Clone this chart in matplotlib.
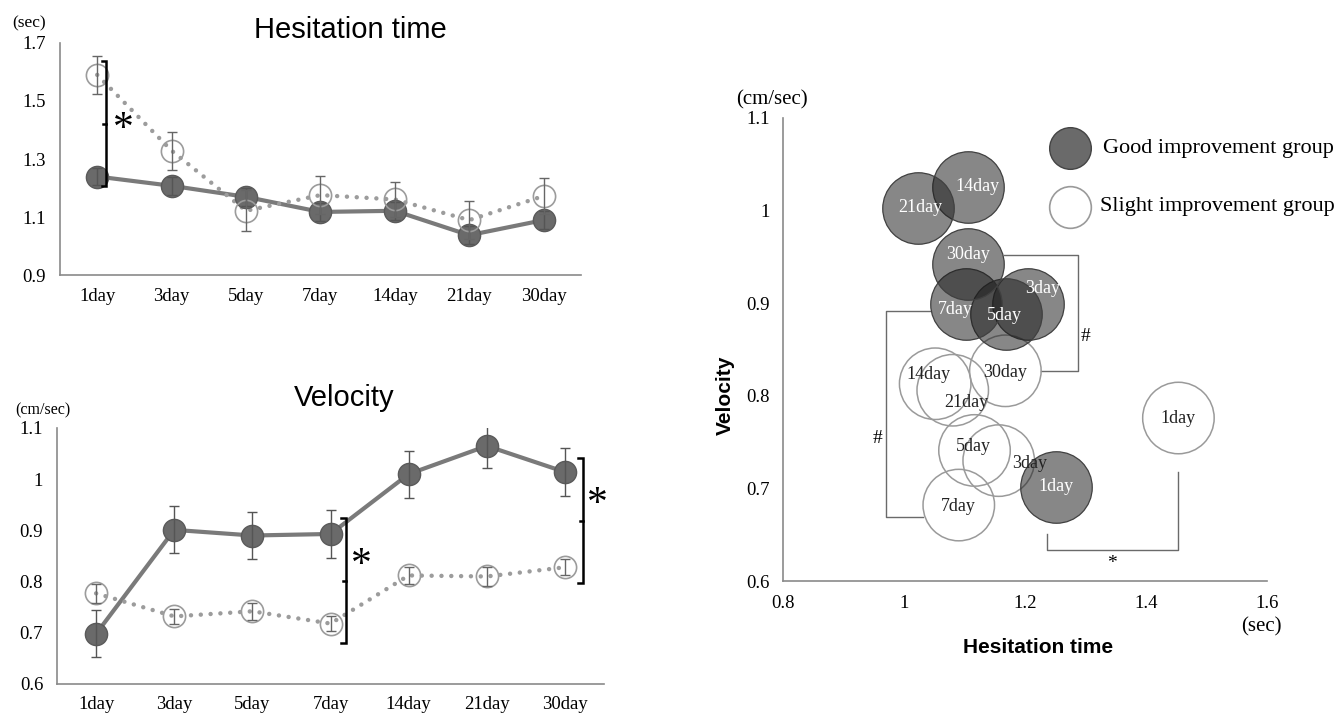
# Hesitation time / velocity by day, two improvement groups
import matplotlib
matplotlib.use("Agg")
import matplotlib.pyplot as plt

days = ["1day", "3day", "5day", "7day", "14day", "21day", "30day"]

# hesitation time (sec)
hes_good = [1.24, 1.208, 1.17, 1.118, 1.122, 1.038, 1.09]
hes_good_err = [0.03, 0.03, 0.03, 0.03, 0.03, 0.03, 0.03]
hes_slight = [1.59, 1.329, 1.122, 1.176, 1.161, 1.09, 1.173]
hes_slight_err = [0.066, 0.065, 0.07, 0.065, 0.06, 0.065, 0.062]

# velocity (cm/sec)
vel_good = [0.698, 0.901, 0.890, 0.893, 1.010, 1.065, 1.014]
vel_good_err = [0.046, 0.046, 0.046, 0.046, 0.046, 0.043, 0.046]
vel_slight = [0.777, 0.732, 0.742, 0.718, 0.812, 0.810, 0.828]
vel_slight_err = [0.018, 0.015, 0.017, 0.015, 0.016, 0.018, 0.016]

# bubble chart (hesitation time vs velocity)
bub_days = ["1day", "3day", "5day", "7day", "14day", "21day", "30day"]
bub_good_x = [1.251, 1.205, 1.168, 1.102, 1.105, 1.022, 1.105]
bub_good_y = [0.702, 0.899, 0.888, 0.899, 1.026, 1.003, 0.942]
bub_slight_x = [1.453, 1.156, 1.116, 1.090, 1.051, 1.080, 1.167]
bub_slight_y = [0.776, 0.730, 0.741, 0.682, 0.813, 0.806, 0.827]

# label nudges inside the bubbles (points)
good_off = [(0, 0), (10, 11), (-1, -1), (-8, -4), (7, 0), (2, 0), (0, 7)]
slight_off = [(0, 0), (22, -2), (-1, 3), (0, -1), (-5, 7), (10, -9), (0, -1)]

serif = "Liberation Serif"
sans = "Liberation Sans"
dark = "#6a6a6a"
light = "#9c9c9c"

fig = plt.figure(figsize=(13.39, 7.15), dpi=100)


def style_axes(ax, size=13.5):
    for s in ["top", "right"]:
        ax.spines[s].set_visible(False)
    for s in ["left", "bottom"]:
        ax.spines[s].set_color("#8a8a8a")
        ax.spines[s].set_linewidth(1.2)
    ax.tick_params(length=0, labelsize=size)
    for lab in ax.get_xticklabels() + ax.get_yticklabels():
        lab.set_fontfamily(serif)


def bracket(ax, x, y0, y1, w=0.05):
    ax.plot([x - w, x, x, x - w], [y1, y1, y0, y0], color="black", lw=1.8,
            solid_joinstyle="miter", clip_on=False, zorder=6)
    ax.plot([x - w * 0.6, x], [(y0 + y1) / 2] * 2, color="black", lw=1.8,
            clip_on=False, zorder=6)


def line_panel(ax, good, good_err, slight, slight_err):
    xs = range(len(days))
    ax.plot(xs, good, color="#7a7a7a", lw=3, zorder=2, solid_capstyle="round")
    ax.plot(xs, good, "o", ms=16, mfc=dark, mec="#5a5a5a", mew=1, zorder=3)
    ax.plot(xs, slight, color=light, lw=3.2, ls=(0, (0.01, 2.2)),
            dash_capstyle="round", zorder=2)
    ax.plot(xs, slight, "o", ms=16, mfc="none", mec=light, mew=1.2, zorder=3)
    ax.errorbar(xs, good, yerr=good_err, fmt="none", ecolor="#555555",
                elinewidth=1, capsize=3.5, capthick=1, zorder=4)
    ax.errorbar(xs, slight, yerr=slight_err, fmt="none", ecolor="#666666",
                elinewidth=1, capsize=3.5, capthick=1, zorder=4)
    ax.set_xlim(-0.5, len(days) - 0.5)
    ax.set_xticks(list(xs))
    ax.set_xticklabels(days)


# ---- Hesitation time ----
ax1 = fig.add_axes([0.0448, 0.615, 0.389, 0.325])
line_panel(ax1, hes_good, hes_good_err, hes_slight, hes_slight_err)
ax1.set_ylim(0.9, 1.7)
ax1.set_yticks([0.9, 1.1, 1.3, 1.5, 1.7])
ax1.set_yticklabels(["0.9", "1.1", "1.3", "1.5", "1.7"])
style_axes(ax1)
ax1.tick_params(axis="y", pad=10)
ax1.tick_params(axis="x", pad=9)
ax1.text(0.557, 1.056, "Hesitation time", transform=ax1.transAxes,
         ha="center", va="center", fontsize=21, family=sans)
ax1.text(-0.06, 1.085, "(sec)", transform=ax1.transAxes, ha="center",
         va="center", fontsize=12.5, family=serif)
bracket(ax1, 0.12, 1.207, 1.636, w=0.06)
ax1.text(0.35, 1.40, "*", ha="center", va="center", fontsize=30, family=serif)

# ---- Velocity ----
ax2 = fig.add_axes([0.0426, 0.0434, 0.4085, 0.358])
line_panel(ax2, vel_good, vel_good_err, vel_slight, vel_slight_err)
ax2.set_ylim(0.6, 1.1)
ax2.set_yticks([0.6, 0.7, 0.8, 0.9, 1.0, 1.1])
ax2.set_yticklabels(["0.6", "0.7", "0.8", "0.9", "1", "1.1"])
style_axes(ax2)
ax2.tick_params(axis="y", pad=10)
ax2.tick_params(axis="x", pad=9)
ax2.text(0.525, 1.117, "Velocity", transform=ax2.transAxes,
         ha="center", va="center", fontsize=21, family=sans)
ax2.text(-0.026, 1.07, "(cm/sec)", transform=ax2.transAxes, ha="center",
         va="center", fontsize=11.5, family=serif)
bracket(ax2, 3.2, 0.68, 0.924, w=0.06)
ax2.text(3.39, 0.83, "*", ha="center", va="center", fontsize=30, family=serif)
bracket(ax2, 6.23, 0.797, 1.041, w=0.06)
ax2.text(6.41, 0.95, "*", ha="center", va="center", fontsize=30, family=serif)

# ---- Bubble chart ----
ax3 = fig.add_axes([0.585, 0.1874, 0.3615, 0.6476])
bub_s = 2650
ax3.scatter(bub_slight_x, bub_slight_y, s=bub_s, facecolors="none",
            edgecolors="#9a9a9a", linewidths=1.1, zorder=2)
ax3.scatter(bub_good_x, bub_good_y, s=bub_s, facecolors=(0.1, 0.1, 0.1, 0.52),
            edgecolors="#404040", linewidths=0.9, zorder=3)
for i, d in enumerate(bub_days):
    ax3.annotate(d, (bub_good_x[i], bub_good_y[i]), xytext=good_off[i],
                 textcoords="offset points", ha="center", va="center",
                 color="white", fontsize=13, family=serif, zorder=5)
    ax3.annotate(d, (bub_slight_x[i], bub_slight_y[i]), xytext=slight_off[i],
                 textcoords="offset points", ha="center", va="center",
                 color="#222222", fontsize=13, family=serif, zorder=5)

ax3.set_xlim(0.8, 1.6)
ax3.set_ylim(0.6, 1.1)
ax3.set_xticks([0.8, 1.0, 1.2, 1.4, 1.6])
ax3.set_xticklabels(["0.8", "1", "1.2", "1.4", "1.6"])
ax3.set_yticks([0.6, 0.7, 0.8, 0.9, 1.0, 1.1])
ax3.set_yticklabels(["0.6", "0.7", "0.8", "0.9", "1", "1.1"])
style_axes(ax3, size=13.5)
ax3.tick_params(pad=10)
ax3.set_xlabel("Hesitation time", fontsize=15, fontweight="bold", family=sans)
ax3.xaxis.set_label_coords(0.527, -0.123)
ax3.set_ylabel("Velocity", fontsize=15, fontweight="bold", family=sans)
ax3.yaxis.set_label_coords(-0.10, 0.40)
ax3.text(0.988, -0.10, "(sec)", transform=ax3.transAxes, ha="center",
         va="center", fontsize=15, family=serif)
ax3.text(-0.023, 1.039, "(cm/sec)", transform=ax3.transAxes, ha="center",
         va="center", fontsize=15, family=serif)

# significance brackets on the bubbles
r = 0.059
bc = "#6a6a6a"
i30, i7, i1 = 6, 3, 0
ax3.plot([bub_good_x[i30] + r, 1.287, 1.287, bub_slight_x[i30] + r],
         [bub_good_y[i30] + 0.01, bub_good_y[i30] + 0.01,
          bub_slight_y[i30], bub_slight_y[i30]], color=bc, lw=1, zorder=1)
ax3.text(1.300, 0.8645, "#", ha="center", va="center", fontsize=14, family=serif)
ax3.plot([bub_good_x[i7] - r, 0.970, 0.970, bub_slight_x[i7] - r],
         [bub_good_y[i7] - 0.007, bub_good_y[i7] - 0.007,
          bub_slight_y[i7] - 0.013, bub_slight_y[i7] - 0.013],
         color=bc, lw=1, zorder=1)
ax3.text(0.955, 0.754, "#", ha="center", va="center", fontsize=14, family=serif)
ax3.plot([bub_good_x[i1] - 0.015, bub_good_x[i1] - 0.015,
          bub_slight_x[i1], bub_slight_x[i1]],
         [0.6505, 0.6333, 0.6333, 0.7175], color=bc, lw=1, zorder=1)
ax3.text(1.343, 0.619, "*", ha="center", va="center", fontsize=14, family=serif)

# legend
ax3.plot([0.593], [0.935], "o", ms=30, mfc=dark, mec="#444444", mew=1,
         transform=ax3.transAxes, clip_on=False)
ax3.plot([0.593], [0.808], "o", ms=30, mfc="white", mec="#9a9a9a", mew=1.2,
         transform=ax3.transAxes, clip_on=False)
ax3.text(0.661, 0.935, "Good improvement group", transform=ax3.transAxes,
         ha="left", va="center", fontsize=16, family=serif)
ax3.text(0.655, 0.808, "Slight improvement group", transform=ax3.transAxes,
         ha="left", va="center", fontsize=16, family=serif)

fig.savefig("out.png", dpi=100)
